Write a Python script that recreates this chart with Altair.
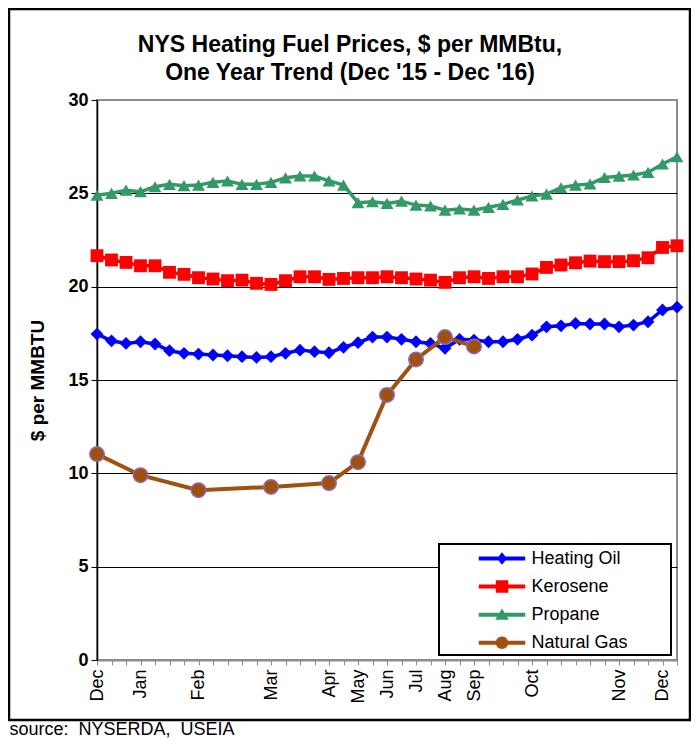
import altair as alt
import pandas as pd

# ---------------- data ----------------
week_index = list(range(41))
heating_oil = [17.46, 17.10, 16.96, 17.05, 16.93, 16.57, 16.43, 16.39, 16.34, 16.30,
               16.25, 16.21, 16.25, 16.43, 16.60, 16.52, 16.46, 16.75, 17.00, 17.30,
               17.30, 17.18, 17.05, 16.96, 16.70, 17.18, 17.14, 17.05, 17.05, 17.18,
               17.40, 17.85, 17.90, 18.03, 18.00, 18.00, 17.85, 17.94, 18.12, 18.75,
               18.90]
kerosene = [21.66, 21.43, 21.30, 21.12, 21.12, 20.77, 20.66, 20.48, 20.41, 20.32,
            20.35, 20.18, 20.12, 20.32, 20.53, 20.53, 20.39, 20.44, 20.48, 20.48,
            20.53, 20.48, 20.41, 20.35, 20.23, 20.48, 20.53, 20.44, 20.53, 20.53,
            20.68, 21.03, 21.16, 21.28, 21.37, 21.34, 21.34, 21.39, 21.55, 22.10,
            22.19]
propane = [24.90, 25.00, 25.17, 25.09, 25.35, 25.48, 25.41, 25.44, 25.59, 25.66,
           25.48, 25.48, 25.59, 25.83, 25.93, 25.93, 25.67, 25.44, 24.50, 24.55,
           24.46, 24.58, 24.37, 24.32, 24.10, 24.16, 24.10, 24.25, 24.41, 24.64,
           24.86, 24.96, 25.30, 25.44, 25.50, 25.85, 25.92, 25.98, 26.12, 26.57,
           26.96]
gas_index = [0, 3, 7, 12, 16, 18, 20, 22, 24, 26]
natural_gas = [11.03, 9.90, 9.10, 9.27, 9.48, 10.60, 14.20, 16.10, 17.30, 16.80]

month_ticks = [0, 3, 7, 12, 16, 18, 20, 22, 24, 26, 30, 36, 39]
month_names = ["Dec", "Jan", "Feb", "Mar", "Apr", "May", "Jun", "Jul", "Aug",
               "Sep", "Oct", "Nov", "Dec"]
y_ticks = [0, 5, 10, 15, 20, 25, 30]

series_names = ["Heating Oil", "Kerosene", "Propane", "Natural Gas"]
series_colors = ["#0000FF", "#FF0000", "#339966", "#A0500F"]
gas_outline = "#8C6BB1"

# legend symbols: line + marker, as unit-square paths
legend_paths = [
    "M-1.86,-0.16H1.86V0.16H-1.86Z M0,-0.5L0.4,0L0,0.5L-0.4,0Z",
    "M-1.86,-0.16H1.86V0.16H-1.86Z M-0.5,-0.5H0.5V0.5H-0.5Z",
    "M-1.86,-0.16H1.86V0.16H-1.86Z M0,-0.5L0.55,0.4L-0.55,0.4Z",
    "M-1.86,-0.16H1.86V0.16H-1.86Z M0.5,0A0.5,0.5 0 1 1 -0.5,0A0.5,0.5 0 1 1 0.5,0Z",
]

# ---------------- tables ----------------
rows = []
for name, vals in zip(series_names[:3], [heating_oil, kerosene, propane]):
    for i, v in zip(week_index, vals):
        rows.append({"idx": i, "price": v, "series": name})
fuel = pd.DataFrame(rows)
gas = pd.DataFrame({"idx": gas_index, "price": natural_gas, "series": "Natural Gas"})
legend_df = pd.DataFrame({"idx": [0] * 4, "price": [0] * 4, "series": series_names})
one = pd.DataFrame({"k": [0]})

label_arr = [""] * len(week_index)
for t, m in zip(month_ticks, month_names):
    label_arr[t] = m
label_expr = "[" + ",".join("'%s'" % s for s in label_arr) + "][datum.value]"

FONT = "Liberation Sans, Arial, sans-serif"
NBSP = "\u00a0"

x_enc = alt.X(
    "idx:Q",
    scale=alt.Scale(domain=[0, 40], nice=False, zero=False),
    axis=alt.Axis(
        values=week_index, labelExpr=label_expr, labelAngle=270,
        labelFontSize=18, labelFont=FONT, labelColor="#000", labelPadding=4,
        labelOverlap=False, labelFlush=False,
        tickSize=5, tickColor="#8c8c8c", tickWidth=1,
        domainColor="#8c8c8c", domainWidth=2, grid=False,
        title="source:" + NBSP + " NYSERDA," + NBSP + " USEIA",
        titleFont=FONT, titleFontSize=18,
        titleFontWeight="normal", titleColor="#000", titleX=-88, titleY=74,
        titleAlign="left", titleBaseline="alphabetic",
    ),
)
y_enc = alt.Y(
    "price:Q",
    scale=alt.Scale(domain=[0, 30], nice=False),
    axis=alt.Axis(
        values=y_ticks, labelFontSize=18, labelFontWeight="bold", labelFont=FONT,
        labelColor="#000", labelPadding=3, tickSize=6, tickColor="#000",
        domainColor="#000", domainWidth=1.5, grid=True,
        gridColor={"condition": {"test": "datum.value === 30", "value": "transparent"},
                   "value": "#000"},
        gridWidth=1,
        title="$ per MMBTU", titleFont=FONT, titleFontSize=19, titleFontWeight="bold",
        titleColor="#000", titleAngle=270, titleX=-60, titleY=280,
        titleAlign="center", titleBaseline="middle",
    ),
)

color3 = alt.Scale(domain=series_names[:3], range=series_colors[:3])

frame = alt.Chart(one).mark_rect(fill="transparent", stroke="#000", strokeWidth=2.5).encode(
    x=alt.value(-88), x2=alt.value(593), y=alt.value(-91), y2=alt.value(620))

legend_box = alt.Chart(one).mark_rect(fill="#fff", stroke="#000", strokeWidth=2).encode(
    x=alt.value(342), x2=alt.value(574), y=alt.value(444), y2=alt.value(555))

lines = alt.Chart(fuel).mark_line(strokeWidth=3.5).encode(
    x=x_enc, y=y_enc,
    color=alt.Color("series:N", scale=color3, legend=None))

points = alt.Chart(fuel).mark_point(filled=True, opacity=1, size=165).encode(
    x=x_enc, y=y_enc,
    color=alt.Color("series:N", scale=color3, legend=None),
    shape=alt.Shape("series:N", scale=alt.Scale(domain=series_names[:3],
                                                 range=["diamond", "square", "triangle-up"]),
                    legend=None))

gas_line = alt.Chart(gas).mark_line(strokeWidth=4, color=series_colors[3]).encode(
    x=x_enc, y=y_enc)
gas_points = alt.Chart(gas).mark_circle(size=210, opacity=1, fill=series_colors[3],
                                        stroke=gas_outline, strokeWidth=1.5).encode(
    x=x_enc, y=y_enc)

leg = alt.Legend(orient="none", legendX=373, legendY=446, direction="vertical",
                 title=None, padding=0, symbolSize=625, symbolStrokeWidth=0,
                 symbolOffset=19.5, labelOffset=17, labelFontSize=18, labelFont=FONT,
                 labelColor="#000", rowPadding=6.1, labelLimit=300)

legend_layer = alt.Chart(legend_df).transform_filter("false").mark_point(
    filled=True, opacity=1).encode(
    x=x_enc, y=y_enc,
    color=alt.Color("series:N", scale=alt.Scale(domain=series_names, range=series_colors),
                    legend=leg),
    shape=alt.Shape("series:N", scale=alt.Scale(domain=series_names, range=legend_paths),
                    legend=leg))

chart = alt.layer(frame, legend_box, lines, points, gas_line, gas_points, legend_layer).resolve_scale(
    color="independent", shape="independent"
).properties(
    width=580, height=560,
    autosize=alt.AutoSizeParams(type="none"),
    padding={"left": 89, "top": 92, "right": 14, "bottom": 78},
    title=alt.TitleParams(
        text=["NYS Heating Fuel Prices, $ per MMBtu,", "One Year Trend (Dec '15 - Dec '16)"],
        fontSize=23, font=FONT, fontWeight="bold", color="#000", anchor="middle",
        frame="group", dx=-37, dy=83, offset=6, lineHeight=28),
    background="#ffffff",
).configure_view(stroke="#8c8c8c", strokeWidth=2)

chart.save("out.html", embed_options={"renderer": "svg", "actions": False})
